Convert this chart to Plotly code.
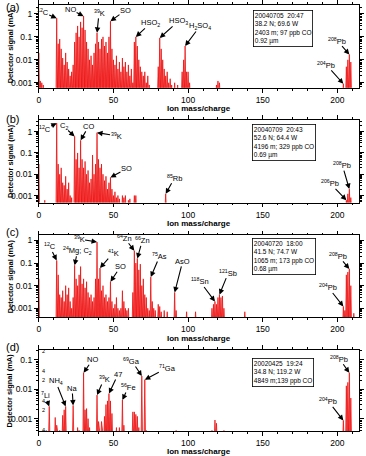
import numpy as np
import plotly.graph_objects as go

# ---------------- data (mass, detector signal in mA) ----------------
peaks_a = [(0, 0.02), (1, 0.0012), (2, 0.001), (3, 0.0008),
           (12, 0.65), (13, 0.05), (14, 0.08), (15, 0.03), (16, 0.012), (17, 0.006), (18, 0.02), (19, 0.008),
           (20, 0.004), (21, 0.002), (22, 0.003), (23, 0.006), (24, 0.06), (25, 0.15), (26, 0.3), (27, 0.1),
           (28, 0.45), (29, 0.25), (30, 0.8), (31, 0.2), (32, 0.06), (33, 0.03), (34, 0.01), (35, 0.015),
           (36, 0.006), (37, 0.02), (38, 0.05), (39, 0.15), (40, 0.06), (41, 0.03), (42, 0.08), (43, 0.1),
           (44, 0.04), (45, 0.06), (46, 0.02), (47, 0.1), (48, 0.48), (49, 0.03), (50, 0.01), (51, 0.006),
           (52, 0.015), (53, 0.004), (54, 0.008), (55, 0.003), (56, 0.012), (57, 0.005), (58, 0.008),
           (59, 0.003), (60, 0.006), (61, 0.002), (62, 0.004), (63, 0.001), (64, 0.06), (65, 0.1),
           (66, 0.04), (67, 0.01), (68, 0.005), (69, 0.003), (70, 0.002), (71, 0.003), (72, 0.001),
           (73, 0.002), (74, 0.0008), (80, 0.005), (81, 0.09), (82, 0.03), (83, 0.01), (84, 0.004),
           (85, 0.002), (86, 0.003), (87, 0.001), (88, 0.0015), (89, 0.0008), (91, 0.001), (93, 0.0008),
           (96, 0.003), (97, 0.01), (98, 0.04), (99, 0.003), (100, 0.003), (101, 0.001),
           (119, 0.0008), (120, 0.0012), (121, 0.001),
           (204, 0.0009), (206, 0.005), (207, 0.01), (208, 0.017), (209, 0.008)]

peaks_b = [(0, 0.03), (4, 0.0006),
           (12, 2.5), (13, 0.03), (14, 0.01), (15, 0.02), (16, 0.004), (17, 0.003), (18, 0.008), (19, 0.002),
           (20, 0.004), (21, 0.001), (22, 0.0008), (24, 0.6), (25, 0.05), (26, 0.1), (27, 0.02), (28, 0.39),
           (29, 0.05), (30, 0.02), (31, 0.04), (32, 0.01), (33, 0.015), (34, 0.004), (35, 0.006), (36, 0.08),
           (37, 0.01), (38, 0.03), (39, 0.9), (40, 0.05), (41, 0.02), (42, 0.03), (43, 0.01), (44, 0.005),
           (45, 0.008), (46, 0.002), (47, 0.004), (48, 0.007), (49, 0.002), (50, 0.001), (51, 0.0015),
           (52, 0.0008), (53, 0.001), (54, 0.0007), (56, 0.001), (57, 0.0008), (58, 0.001), (60, 0.0006),
           (61, 0.0007), (64, 0.001), (65, 0.001), (85, 0.0012),
           (206, 0.0006), (207, 0.0012), (208, 0.002), (209, 0.0008)]

peaks_c = [(0, 0.02),
           (12, 0.13), (13, 0.03), (14, 0.004), (15, 0.003), (16, 0.006), (17, 0.002), (18, 0.01), (19, 0.004),
           (20, 0.008), (21, 0.002), (22, 0.001), (23, 0.003), (24, 0.08), (25, 0.02), (26, 0.01), (27, 0.03),
           (28, 0.07), (29, 0.012), (30, 0.02), (31, 0.008), (32, 0.015), (33, 0.005), (34, 0.003),
           (35, 0.004), (36, 0.002), (37, 0.003), (38, 0.02), (39, 0.85), (40, 0.02), (41, 0.06), (42, 0.006),
           (43, 0.01), (44, 0.003), (45, 0.004), (46, 0.002), (47, 0.003), (48, 0.015), (49, 0.002),
           (50, 0.001), (51, 0.0015), (52, 0.003), (53, 0.001), (54, 0.0008), (55, 0.001), (56, 0.006),
           (57, 0.002), (58, 0.001), (59, 0.0008), (60, 0.001), (63, 0.005), (64, 0.35), (65, 0.1),
           (66, 0.16), (67, 0.05), (68, 0.09), (69, 0.01), (70, 0.02), (71, 0.004), (72, 0.003), (73, 0.001),
           (74, 0.0008), (75, 0.024), (76, 0.002), (77, 0.001), (78, 0.0008), (80, 0.0015), (81, 0.0012),
           (82, 0.0007), (84, 0.0008), (86, 0.0007), (91, 0.005), (92, 0.0008), (99, 0.0007), (105, 0.0007),
           (116, 0.001), (117, 0.0015), (118, 0.002), (119, 0.0015), (120, 0.003), (121, 0.004),
           (122, 0.003), (123, 0.0035), (124, 0.001), (138, 0.0007),
           (204, 0.0012), (205, 0.0008), (206, 0.03), (207, 0.04), (208, 0.055), (209, 0.01), (211, 0.0006)]

peaks_d = [(5, 0.0004), (7, 0.0026), (11, 0.0011), (12, 0.0006), (14, 0.0004), (16, 0.0013), (17, 0.002),
           (18, 0.0026), (23, 0.0028), (26, 0.0005), (27, 0.0004), (30, 0.036), (31, 0.002), (32, 0.0022),
           (33, 0.001), (34, 0.0005), (39, 0.0063), (40, 0.0008), (42, 0.0008), (44, 0.0012), (45, 0.003),
           (46, 0.004), (47, 0.0071), (48, 0.004), (49, 0.0015), (52, 0.0005), (54, 0.0005), (56, 0.0043),
           (57, 0.0006), (63, 0.0017), (64, 0.0017), (65, 0.0014), (66, 0.0012), (67, 0.0005), (69, 0.028),
           (71, 0.021), (72, 0.0004), (92, 0.0004), (116, 0.0004), (118, 0.0009), (119, 0.0007),
           (124, 0.0004), (204, 0.00087), (206, 0.013), (207, 0.017), (208, 0.036), (209, 0.005)]

labels_a = ["<sup>12</sup>C", "NO", "<sup>39</sup>K", "SO", "HSO<sub>2</sub>", "HSO<sub>3</sub>",
            "H<sub>2</sub>SO<sub>4</sub>", "<sup>204</sup>Pb", "<sup>208</sup>Pb"]
label_mass_a = [12, 30, 39, 48, 65, 81, 98, 204, 208]
labels_b = ["<sup>12</sup>C", "C<sub>2</sub>", "CO", "<sup>39</sup>K", "SO", "<sup>85</sup>Rb",
            "<sup>206</sup>Pb", "<sup>208</sup>Pb"]
label_mass_b = [12, 24, 28, 39, 48, 85, 206, 208]
labels_c = ["<sup>12</sup>C", "<sup>24</sup>Mg; C<sub>2</sub>", "<sup>39</sup>K", "<sup>41</sup>K", "SO",
            "<sup>64</sup>Zn", "<sup>66</sup>Zn", "<sup>75</sup>As", "AsO", "<sup>118</sup>Sn",
            "<sup>121</sup>Sb", "<sup>204</sup>Pb", "<sup>208</sup>Pb"]
label_mass_c = [12, 24, 39, 41, 48, 64, 66, 75, 91, 118, 121, 204, 208]
labels_d = ["<sup>7</sup>Li", "NH<sub>4</sub>", "Na", "NO", "<sup>39</sup>K", "47", "<sup>56</sup>Fe",
            "<sup>69</sup>Ga", "<sup>71</sup>Ga", "<sup>204</sup>Pb", "<sup>208</sup>Pb"]
label_mass_d = [7, 18, 23, 30, 39, 47, 56, 69, 71, 204, 208]

info_a = ["20040705  20:47", "38.2 N; 69.6 W", "2403 m; 97 ppb CO", "0.92 µm"]
info_b = ["20040709  20:43", "52.6 N; 64.4 W", "4196 m; 329 ppb CO", "0.69 µm"]
info_c = ["20040720  18:00", "41.5 N; 74.7 W", "1065 m; 173 ppb CO", "0.68 µm"]
info_d = ["20020425  19:24", "34.8 N; 119.2 W", "4849 m;139 ppb CO"]

panel_letters = ["(a)", "(b)", "(c)", "(d)"]
x_ticks = [0, 50, 100, 150, 200]
y_ticks_abc = [0.001, 0.01, 0.1, 1]
y_ticks_d = [0.001, 0.01, 0.1]
small_ticks_d = [0.0004, 0.002, 0.004, 0.02, 0.04, 0.2]
small_text_d = ["4", "2", "4", "2", "4", "2"]

# ---------------- layout / style (pixels) ----------------
W, H = 366, 456
XL, XR = 37, 359
tops = [4, 119, 235, 350]
bots = [87, 202, 317, 431]
yranges = [(-3.22, 0.39), (-3.33, 0.56), (-3.4, 0.22), (-3.42, -0.68)]
label_offsets = [
    [(-14, -6), (-13, -7), (2, -20), (15, -11), (15, -14), (19, -17), (15, -20), (-17, -19), (-12, -14)],
    [(-12, 6), (-11, -10), (8, -14), (19, 3), (16, -9), (9, -16), (-16, -17), (-7, -24)],
    [(-7, -14), (3, -15), (-18, -3), (13, -15), (10, -15), (-10, -13), (5, -18), (9, -21), (8, -31),
     (-15, -20), (9, -22), (-15, -19), (-11, -13)],
    [(-4, -11), (-10, -25), (-1, -17), (9, -13), (7, -16), (9, -19), (6, -13), (-10, -15), (23, -12),
     (-15, -19), (-10, -14)],
]
info_pos = [(252, 9), (251, 123), (251, 238), (251, 358)]
letter_y = [6, 118, 232, 347]
xtitle_y = [108, 223, 338, 451]

FONT = "Liberation Sans, Arial, sans-serif"
RED = "rgb(235,0,0)"
HW = 0.5

all_peaks = [peaks_a, peaks_b, peaks_c, peaks_d]
all_labels = [labels_a, labels_b, labels_c, labels_d]
all_lmass = [label_mass_a, label_mass_b, label_mass_c, label_mass_d]
all_info = [info_a, info_b, info_c, info_d]

fig = go.Figure()
annotations = []

for i in range(4):
    sx = "" if i == 0 else str(i + 1)
    xa, ya = "x" + sx, "y" + sx
    lo, hi = yranges[i]
    floor = 10 ** (lo - 0.3)
    pk = all_peaks[i]
    xs, ys = [], []
    for m, s in pk:
        xs += [m - HW, m, m + HW]
        ys += [floor, s, floor]
    fig.add_trace(go.Scatter(x=xs, y=ys, mode="lines", fill="tozeroy",
                             line=dict(color=RED, width=0.7),
                             fillcolor="rgba(255,50,50,0.65)",
                             xaxis=xa, yaxis=ya, showlegend=False, hoverinfo="skip"))

    ydom = [1 - bots[i] / H, 1 - tops[i] / H]
    xdom = [XL / W, XR / W]
    fig.update_layout(**{
        "xaxis" + sx: dict(domain=xdom, anchor=ya, range=[0, 214.5], tickvals=x_ticks,
                           ticks="outside", ticklen=4, tickwidth=0.8, tickcolor="black",
                           minor=dict(dtick=10, tick0=0, ticks="outside", ticklen=2, tickwidth=0.7,
                                      tickcolor="black"),
                           showline=True, linecolor="black", linewidth=0.8, mirror="allticks",
                           showgrid=False, zeroline=False,
                           tickfont=dict(family=FONT, size=8.5, color="black")),
    })
    if i < 3:
        tv = y_ticks_abc
        mv = [k * 10.0 ** e for e in range(-4, 1) for k in range(2, 10)]
    else:
        tv = y_ticks_d
        mv = [k * 10.0 ** e for e in range(-4, 0) for k in range(2, 10)]
    tt = [("%g" % v) for v in tv]
    fig.update_layout(**{
        "yaxis" + sx: dict(domain=ydom, anchor=xa, type="log", range=[lo, hi],
                           tickvals=tv, ticktext=tt, ticks="outside", ticklen=4, tickwidth=0.8,
                           tickcolor="black",
                           minor=dict(tickvals=mv, ticks="outside", ticklen=2, tickwidth=0.7,
                                      tickcolor="black"),
                           showline=True, linecolor="black", linewidth=0.8, mirror="allticks",
                           showgrid=False, zeroline=False,
                           tickfont=dict(family=FONT, size=8.5, color="black")),
    })
    if i == 3:
        for v, t in zip(small_ticks_d, small_text_d):
            annotations.append(dict(x=0.003, y=np.log10(v), xref=xa + " domain", yref=ya, text=t,
                                    showarrow=False, xanchor="left", yanchor="middle",
                                    font=dict(family=FONT, size=5.5, color="black")))

    # peak labels with arrows
    lookup = dict(pk)
    for lab, m, (dx, dy) in zip(all_labels[i], all_lmass[i], label_offsets[i]):
        annotations.append(dict(x=m, y=np.log10(lookup[m]), xref=xa, yref=ya, text=lab,
                                showarrow=True, ax=dx, ay=dy, arrowhead=2, arrowsize=1,
                                arrowwidth=1.1, arrowcolor="black", standoff=0, borderpad=0,
                                font=dict(family=FONT, size=7.5, color="black")))
    # info box
    ix, iy = info_pos[i]
    annotations.append(dict(x=ix / W, y=1 - iy / H, xref="paper", yref="paper",
                            xanchor="left", yanchor="top", align="left", showarrow=False,
                            text="<br>".join(all_info[i]), bordercolor="black", borderwidth=0.8,
                            borderpad=1, bgcolor="white",
                            font=dict(family=FONT, size=6.5, color="black")))
    # panel letter
    annotations.append(dict(x=2 / W, y=1 - letter_y[i] / H, xref="paper", yref="paper",
                            xanchor="left", yanchor="middle", showarrow=False, text=panel_letters[i],
                            font=dict(family=FONT, size=11, color="black")))
    # axis titles
    annotations.append(dict(x=(XL + XR) / 2 / W, y=1 - xtitle_y[i] / H, xref="paper", yref="paper",
                            xanchor="center", yanchor="middle", showarrow=False,
                            text="<b>Ion mass/charge</b>",
                            font=dict(family=FONT, size=8, color="black")))
    annotations.append(dict(x=8 / W, y=1 - (tops[i] + bots[i]) / 2 / H, xref="paper", yref="paper",
                            xanchor="center", yanchor="middle", showarrow=False, textangle=-90,
                            text="<b>Detector signal (mA)</b>",
                            font=dict(family=FONT, size=7.5, color="black")))

fig.update_layout(width=W, height=H, margin=dict(l=0, r=0, t=0, b=0),
                  paper_bgcolor="white", plot_bgcolor="white", annotations=annotations,
                  showlegend=False)
fig.write_html("out.html", config={"displayModeBar": False})
